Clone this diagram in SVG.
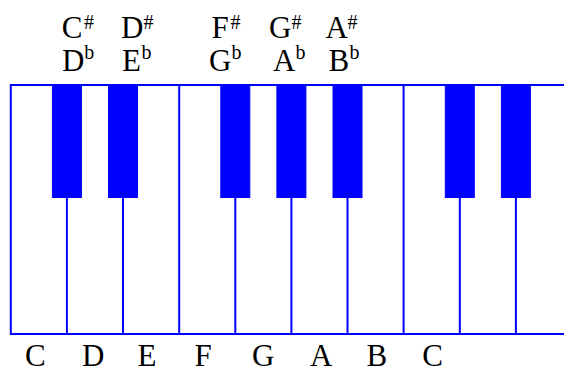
<svg xmlns="http://www.w3.org/2000/svg" width="564" height="372" viewBox="0 0 564 372">
<style>
.w{stroke:#0000ff;stroke-width:2;fill:none}
.b{fill:#0000ff;stroke:#0000ff;stroke-width:1}
</style>
<rect width="564" height="372" fill="#fff"/>
<g id="keyboard">
<path class="w" d="M564 85H10.8V334H564"/>
<g id="white-lines">
<line class="w" x1="66.9" y1="85" x2="66.9" y2="334"/>
<line class="w" x1="123" y1="85" x2="123" y2="334"/>
<line class="w" x1="179.2" y1="85" x2="179.2" y2="334"/>
<line class="w" x1="235.3" y1="85" x2="235.3" y2="334"/>
<line class="w" x1="291.4" y1="85" x2="291.4" y2="334"/>
<line class="w" x1="347.5" y1="85" x2="347.5" y2="334"/>
<line class="w" x1="403.6" y1="85" x2="403.6" y2="334"/>
<line class="w" x1="459.8" y1="85" x2="459.8" y2="334"/>
<line class="w" x1="515.9" y1="85" x2="515.9" y2="334"/>
</g>
<g id="black-keys">
<rect class="b" x="52.4" y="85" width="29" height="112.5"/>
<rect class="b" x="108.5" y="85" width="29" height="112.5"/>
<rect class="b" x="220.8" y="85" width="29" height="112.5"/>
<rect class="b" x="276.9" y="85" width="29" height="112.5"/>
<rect class="b" x="333" y="85" width="29" height="112.5"/>
<rect class="b" x="445.3" y="85" width="29" height="112.5"/>
<rect class="b" x="501.4" y="85" width="29" height="112.5"/>
</g>
</g>
<g font-family="'Liberation Serif', 'Times New Roman', Times, serif" font-size="31" fill="#000">
<g id="sharp-labels">
<text x="61.8" y="38.3">C<tspan font-size="20" x="84" y="29">#</tspan></text>
<text x="121" y="38.3">D<tspan font-size="20" x="143.5" y="29">#</tspan></text>
<text x="211.5" y="38.3">F<tspan font-size="20" x="230.5" y="29">#</tspan></text>
<text x="269" y="38.3">G<tspan font-size="20" x="291.5" y="29">#</tspan></text>
<text x="325.5" y="38.3">A<tspan font-size="20" x="347.5" y="29">#</tspan></text>
</g>
<g id="flat-labels">
<text x="62" y="71">D<tspan font-size="20" x="84.3" y="59">b</tspan></text>
<text x="122" y="71">E<tspan font-size="20" x="141.5" y="59">b</tspan></text>
<text x="209" y="71">G<tspan font-size="20" x="231.5" y="59">b</tspan></text>
<text x="273" y="71">A<tspan font-size="20" x="295.5" y="59">b</tspan></text>
<text x="328.5" y="71">B<tspan font-size="20" x="349.5" y="59">b</tspan></text>
</g>
<g id="white-labels">
<text x="25" y="365.5">C</text>
<text x="82" y="365.5">D</text>
<text x="137.5" y="365.5">E</text>
<text x="194.5" y="365.5">F</text>
<text x="252" y="365.5">G</text>
<text x="310" y="365.5">A</text>
<text x="366.5" y="365.5">B</text>
<text x="422.3" y="365.5">C</text>
</g>
</g>
</svg>
